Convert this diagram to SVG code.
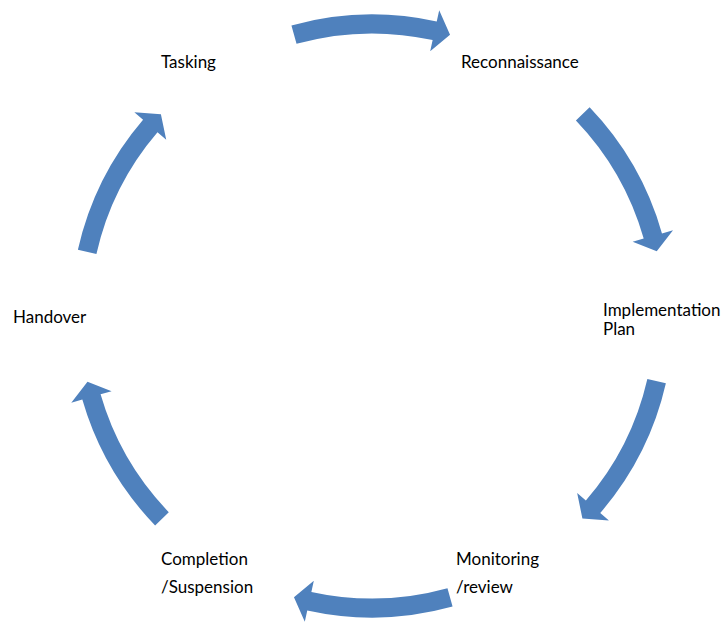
<svg xmlns="http://www.w3.org/2000/svg" xmlns:xlink="http://www.w3.org/1999/xlink" width="723" height="623" viewBox="0 0 723 623">
<style>
.lbl{font-family:Lato,"Liberation Sans",sans-serif;font-size:17px;fill:#000}
.arrow{fill:#4F81BD}
</style>
<defs>
<path id="arr" d="M291.44,25.47 A301.5,301.5 0 0 1 436.74,21.52 L439.2,10.3 L450.03,34.63 L430.18,51.31 L432.65,40.08 A282.5,282.5 0 0 0 296.52,43.78 Z"/>
</defs>
<rect width="723" height="623" fill="#fff"/>
<g id="connectors" class="arrow">
<use xlink:href="#arr" href="#arr"/>
<use xlink:href="#arr" href="#arr" transform="rotate(61.7 372 316)"/>
<use xlink:href="#arr" href="#arr" transform="rotate(118.4 372 316)"/>
<use xlink:href="#arr" href="#arr" transform="rotate(180 372 316)"/>
<use xlink:href="#arr" href="#arr" transform="rotate(241.5 372 316)"/>
<use xlink:href="#arr" href="#arr" transform="rotate(298.2 372 316)"/>
</g>
<g id="tasking"><text class="lbl" x="161" y="68">Tasking</text></g>
<g id="reconnaissance"><text class="lbl" x="461" y="68">Reconnaissance</text></g>
<g id="implementation"><text class="lbl" x="603" y="316">Implementation</text><text class="lbl" x="603" y="335">Plan</text></g>
<g id="monitoring"><text class="lbl" x="456" y="565">Monitoring</text><text class="lbl" x="456" y="593">/review</text></g>
<g id="completion"><text class="lbl" x="161" y="565">Completion</text><text class="lbl" x="161" y="593">/Suspension</text></g>
<g id="handover"><text class="lbl" x="13" y="323">Handover</text></g>
</svg>
